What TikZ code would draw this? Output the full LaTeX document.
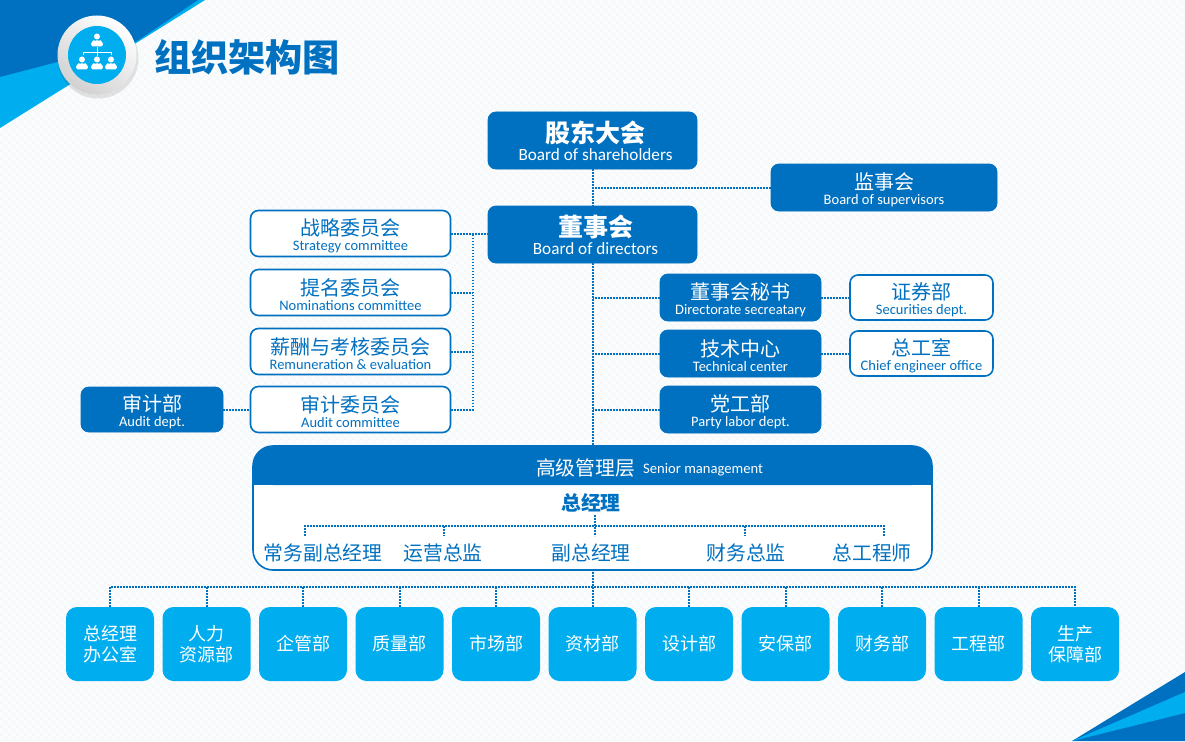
\documentclass[tikz,border=0pt]{standalone}
\usepackage{fontspec}
\setmainfont{Carlito}
\newfontfamily\cjk{Noto Sans CJK SC}
\definecolor{deepblue}{HTML}{0070C0}
\definecolor{skyblue}{HTML}{00AEEF}
\definecolor{paper}{HTML}{FBFCFD}
\definecolor{weave}{HTML}{F2F6F8}
\newcommand\fs[1]{\fontsize{#1}{#1}\selectfont}
\newcommand\bigbox[2]{\hspace*{6pt}{\cjk\bfseries\fs{25}#1}\\[3pt]\hspace*{6pt}{\fs{17.2}#2}}
\newcommand\midbox[2]{\rule{0pt}{21pt}{\cjk\fs{20}#1}\\[2.5pt]{\fs{14.5}#2}}
\newcommand\person[2]{%
  \fill[white] (#1,#2-4.5) circle (3);
  \fill[white,rounded corners=1.8] (#1-6.2,#2+5.5) -- (#1-5.4,#2+0.2) -- (#1-1.8,#2-1.4) -- (#1,#2+0.8) -- (#1+1.8,#2-1.4) -- (#1+5.4,#2+0.2) -- (#1+6.2,#2+5.5) -- cycle;}
\tikzset{
  x=1pt,y=-1pt,
  solidbox/.style={fill=deepblue,draw=deepblue,line width=0.8pt,rounded corners=8pt,align=center,text=white,inner sep=0pt},
  linebox/.style={fill=white,draw=deepblue,line width=1.6pt,rounded corners=8pt,align=center,text=deepblue,inner sep=0pt},
  deptbox/.style={fill=skyblue,rounded corners=11pt,align=center,text=white,inner sep=0pt,minimum width=88pt,minimum height=74pt,font=\cjk\fs{18}},
  linklabel/.style={text=deepblue,inner sep=0pt,font=\cjk\fs{19.8}},
  dotline/.style={draw=deepblue,line width=2pt,dash pattern=on 1.7pt off 1.3pt},
}
\begin{document}
\begin{tikzpicture}
\useasboundingbox (0,0) rectangle (1185,741);
\fill[paper] (0,0) rectangle (1185,741);
\begin{scope}
\clip (0,0) rectangle (1185,741);
\foreach \k in {0,8,...,1928}{
  \draw[weave,line width=0.5pt] (\k,0) -- (\k-741,741);
  \draw[weave,line width=0.5pt] (\k-741,0) -- (\k,741);
}
\end{scope}
% corner bands
\fill[skyblue] (0,0) -- (205,0) -- (0,128) -- cycle;
\fill[deepblue] (0,0) -- (198,0) -- (137,41) -- (0,77) -- cycle;
\fill[deepblue] (1072,741) -- (1185,672) -- (1185,741) -- cycle;
\fill[skyblue] (1072,741) -- (1185,692) -- (1185,713) -- cycle;
% badge
\fill[black,opacity=0.10] (98,58) circle (40.5);
\shade[left color=white,right color=black!18,shading angle=-35] (97,55) circle (39.5);
\fill[skyblue] (97,55) circle (29);
\person{97}{41}
\person{82}{64}
\person{97}{64}
\person{111}{64}
\draw[white,line width=0.6pt] (83,52) -- (111,52) (83,52) -- (83,55) (97,47) -- (97,56) (111,52) -- (111,55);
\node[text=deepblue,inner sep=0pt,font=\cjk\bfseries\fs{37.2}] (title) at (247,57) {组织架构图};

% upper boxes
\node[solidbox,minimum width=209pt,minimum height=57pt] (holders) at (592.5,140.5) {\bigbox{股东大会}{Board of shareholders}};
\node[solidbox,minimum width=209pt,minimum height=57pt] (directors) at (592.5,234.5) {\bigbox{董事会}{Board of directors}};
\node[solidbox,minimum width=226pt,minimum height=47pt] (supervisors) at (884,187.5) {\midbox{监事会}{Board of supervisors}};
\node[solidbox,minimum width=161pt,minimum height=47pt] (secretary) at (740.5,297.5) {\midbox{董事会秘书}{Directorate secreatary}};
\node[solidbox,minimum width=161pt,minimum height=47pt] (tech) at (740.5,353.5) {\midbox{技术中心}{Technical center}};
\node[solidbox,minimum width=161pt,minimum height=47pt] (party) at (740.5,409.5) {\midbox{党工部}{Party labor dept.}};
\node[linebox,minimum width=143pt,minimum height=45pt] (securities) at (921.5,297.5) {\midbox{证券部}{Securities dept.}};
\node[linebox,minimum width=143pt,minimum height=45pt] (chief) at (921.5,353.5) {\midbox{总工室}{Chief engineer office}};
\node[linebox,minimum width=200pt,minimum height=46pt] (strategy) at (350.5,233.5) {\midbox{战略委员会}{Strategy committee}};
\node[linebox,minimum width=200pt,minimum height=46pt] (nominations) at (350.5,292.5) {\midbox{提名委员会}{Nominations committee}};
\node[linebox,minimum width=200pt,minimum height=46pt] (remuneration) at (350.5,351.5) {\midbox{薪酬与考核委员会}{Remuneration \& evaluation}};
\node[linebox,minimum width=200pt,minimum height=46pt] (auditcom) at (350.5,409.5) {\midbox{审计委员会}{Audit committee}};
\node[solidbox,minimum width=142pt,minimum height=45pt] (auditdept) at (152,409.5) {\midbox{审计部}{Audit dept.}};

% senior management panel
\node[linebox,rounded corners=20pt,minimum width=679pt,minimum height=124pt] (senior) at (592.5,508) {};
\fill[deepblue,rounded corners=20pt] (253,485) -- (253,446) -- (932,446) -- (932,485) -- cycle;
\fill[deepblue] (253,470) rectangle (932,485);
\node[text=white,inner sep=0pt,font=\cjk\fs{19.8}] (seniorcn) at (585.5,468) {高级管理层};
\node[text=white,inner sep=0pt,font=\fs{14.6},anchor=west] (senioren) at (643,470) {Senior management};
\node[text=deepblue,inner sep=0pt,font=\cjk\bfseries\fs{19.8}] (gm) at (591,503) {总经理};
\node[linklabel] (m1) at (323,553) {常务副总经理};
\node[linklabel] (m2) at (443,553) {运营总监};
\node[linklabel] (m3) at (591,553) {副总经理};
\node[linklabel] (m4) at (746,553) {财务总监};
\node[linklabel] (m5) at (872,553) {总工程师};

% departments
\node[deptbox] (d1) at (110,644) {总经理\\[3pt]办公室};
\node[deptbox] (d2) at (206.5,644) {人力\\[3pt]资源部};
\node[deptbox] (d3) at (303,644) {企管部};
\node[deptbox] (d4) at (399.5,644) {质量部};
\node[deptbox] (d5) at (496,644) {市场部};
\node[deptbox] (d6) at (592.5,644) {资材部};
\node[deptbox] (d7) at (689,644) {设计部};
\node[deptbox] (d8) at (785.5,644) {安保部};
\node[deptbox] (d9) at (882,644) {财务部};
\node[deptbox] (d10) at (978.5,644) {工程部};
\node[deptbox] (d11) at (1075,644) {生产\\[3pt]保障部};

% connectors
\draw[dotline] (holders.south) -- (directors.north);
\draw[dotline] (directors.south) -- (senior.north -| directors.south);
\draw[dotline] (d6.north) -- (senior.south -| holders.south);
\draw[dotline] (supervisors.west) -- (supervisors.west -| holders.south);
\draw[dotline] (secretary.west) -- (secretary.west -| holders.south);
\draw[dotline] (tech.west) -- (tech.west -| holders.south);
\draw[dotline] (party.west) -- (party.west -| holders.south);
\draw[dotline] (secretary.east) -- (securities.west);
\draw[dotline] (tech.east) -- (chief.west);
\draw[dotline] (strategy.east) -- (directors.west |- strategy.east);
\coordinate (cbus) at (473,233.5);
\draw[dotline] (nominations.east) -- (nominations.east -| cbus);
\draw[dotline] (remuneration.east) -- (remuneration.east -| cbus);
\draw[dotline] (auditcom.east) -- (auditcom.east -| cbus) -- (cbus);
\draw[dotline] (auditdept.east) -- (auditcom.west);
% management ticks
\coordinate (gmbus) at (595,526);
\coordinate (t1) at (305,536);
\coordinate (t2) at (444,536);
\coordinate (t3) at (595,536);
\coordinate (t4) at (745,536);
\coordinate (t5) at (884,536);
\draw[dotline] (595,515) -- (t3);
\draw[dotline] (t1) -- (t1 |- gmbus) -- (t5 |- gmbus) -- (t5);
\draw[dotline] (t2 |- gmbus) -- (t2);
\draw[dotline] (t4 |- gmbus) -- (t4);
% department bus
\coordinate (dbus) at (592.5,587);
\draw[dotline] (d1.north) -- (d1.north |- dbus) -- (d11.north |- dbus) -- (d11.north);
\foreach \n in {d2,d3,d4,d5,d7,d8,d9,d10}{
  \draw[dotline] (\n.north) -- (\n.north |- dbus);
}
\end{tikzpicture}
\end{document}
